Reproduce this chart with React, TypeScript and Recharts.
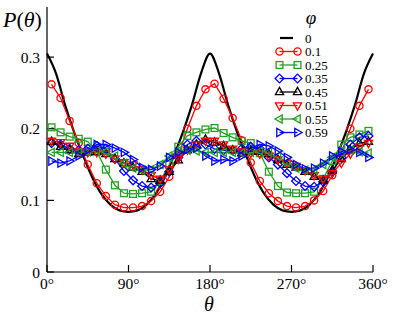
import { LineChart, Line, XAxis, YAxis } from 'recharts';

// phi = 0 reference curve, sampled every 10 degrees
const curveTheta = [0, 10, 20, 30, 40, 50, 60, 70, 80, 90, 100, 110, 120, 130, 140, 150, 160, 170, 180,
  190, 200, 210, 220, 230, 240, 250, 260, 270, 280, 290, 300, 310, 320, 330, 340, 350, 360];
const curvePhi0 = [0.305, 0.277, 0.233, 0.195, 0.162, 0.132, 0.109, 0.094, 0.086, 0.084, 0.086, 0.094, 0.109,
  0.132, 0.162, 0.195, 0.233, 0.277, 0.305, 0.277, 0.233, 0.195, 0.162, 0.132, 0.109, 0.094, 0.086, 0.084,
  0.086, 0.094, 0.109, 0.132, 0.162, 0.195, 0.233, 0.277, 0.305];

// simulation points, every 10 degrees starting at 5
const markTheta = [5, 15, 25, 35, 45, 55, 65, 75, 85, 95, 105, 115, 125, 135, 145, 155, 165, 175,
  185, 195, 205, 215, 225, 235, 245, 255, 265, 275, 285, 295, 305, 315, 325, 335, 345, 355];
const phi010 = [0.262, 0.243, 0.211, 0.18, 0.15, 0.124, 0.106, 0.094, 0.09, 0.09, 0.092, 0.099, 0.112, 0.133,
  0.163, 0.2, 0.232, 0.255, 0.263, 0.242, 0.215, 0.184, 0.153, 0.127, 0.11, 0.099, 0.092, 0.09, 0.092, 0.1,
  0.113, 0.135, 0.167, 0.2, 0.232, 0.255];
const phi025 = [0.202, 0.195, 0.189, 0.186, 0.182, 0.168, 0.143, 0.121, 0.11, 0.109, 0.11, 0.112, 0.127, 0.15,
  0.175, 0.19, 0.195, 0.199, 0.201, 0.194, 0.188, 0.183, 0.18, 0.166, 0.14, 0.12, 0.111, 0.11, 0.11, 0.112,
  0.13, 0.155, 0.178, 0.188, 0.192, 0.197];
const phi035 = [0.18, 0.178, 0.172, 0.17, 0.172, 0.176, 0.172, 0.158, 0.141, 0.128, 0.12, 0.118, 0.124, 0.14,
  0.16, 0.178, 0.183, 0.178, 0.172, 0.17, 0.17, 0.172, 0.175, 0.172, 0.16, 0.15, 0.138, 0.127, 0.12, 0.119,
  0.126, 0.14, 0.16, 0.178, 0.188, 0.19];
const phi045 = [0.182, 0.175, 0.17, 0.165, 0.167, 0.168, 0.165, 0.158, 0.152, 0.146, 0.14, 0.13, 0.128, 0.14,
  0.156, 0.17, 0.178, 0.185, 0.181, 0.176, 0.17, 0.166, 0.168, 0.168, 0.165, 0.157, 0.15, 0.146, 0.14, 0.133,
  0.128, 0.142, 0.158, 0.17, 0.18, 0.182];
const phi051 = [0.183, 0.181, 0.176, 0.168, 0.167, 0.167, 0.165, 0.158, 0.153, 0.15, 0.143, 0.135, 0.13, 0.143,
  0.158, 0.171, 0.178, 0.183, 0.183, 0.178, 0.172, 0.168, 0.166, 0.165, 0.162, 0.157, 0.152, 0.148, 0.142,
  0.135, 0.13, 0.138, 0.152, 0.165, 0.175, 0.18];
const phi055 = [0.167, 0.167, 0.167, 0.167, 0.168, 0.17, 0.168, 0.162, 0.152, 0.145, 0.142, 0.143, 0.15, 0.162,
  0.169, 0.17, 0.169, 0.167, 0.167, 0.167, 0.167, 0.166, 0.167, 0.169, 0.168, 0.162, 0.153, 0.145, 0.142,
  0.143, 0.15, 0.16, 0.167, 0.17, 0.168, 0.166];
const phi059 = [0.155, 0.152, 0.155, 0.162, 0.17, 0.178, 0.178, 0.173, 0.167, 0.157, 0.146, 0.143, 0.148, 0.16,
  0.167, 0.171, 0.173, 0.162, 0.155, 0.157, 0.155, 0.162, 0.173, 0.178, 0.176, 0.169, 0.16, 0.15, 0.144,
  0.145, 0.152, 0.162, 0.168, 0.171, 0.167, 0.16];

const xMajor = [0, 90, 180, 270, 360];
const xMinor = [45, 135, 225, 315];
const yMajor = [0, 0.1, 0.2, 0.3];
const yMinor = [0.05, 0.15, 0.25, 0.35];

const GREEN = '#22a022';
const SERIF = 'Liberation Serif, Times New Roman, serif';

const series = [
  { name: '0.1', values: phi010, color: '#ff0000', shape: 'circle' },
  { name: '0.25', values: phi025, color: GREEN, shape: 'square' },
  { name: '0.35', values: phi035, color: '#0000ff', shape: 'diamond' },
  { name: '0.45', values: phi045, color: '#000000', shape: 'up' },
  { name: '0.51', values: phi051, color: '#ff0000', shape: 'down' },
  { name: '0.55', values: phi055, color: GREEN, shape: 'left' },
  { name: '0.59', values: phi059, color: '#0000ff', shape: 'right' },
];

const curveData = curveTheta.map((t, i) => ({ theta: t, p: curvePhi0[i] }));

const shapes: Record<string, number[][]> = {
  diamond: [[0, -4.4], [4.4, 0], [0, 4.4], [-4.4, 0]],
  up: [[0, -4.6], [4.1, 2.7], [-4.1, 2.7]],
  down: [[0, 4.6], [4.1, -2.7], [-4.1, -2.7]],
  left: [[-4.6, 0], [2.7, -4.1], [2.7, 4.1]],
  right: [[4.6, 0], [-2.7, -4.1], [-2.7, 4.1]],
};

function Marker({ shape, cx, cy, color }: { shape: string; cx: number; cy: number; color: string }) {
  const st = { fill: 'none', stroke: color, strokeWidth: 1.3 };
  if (shape === 'circle') return <circle cx={cx} cy={cy} r={3.6} {...st} />;
  if (shape === 'square') return <rect x={cx - 3.4} y={cy - 3.4} width={6.8} height={6.8} {...st} />;
  const pts = shapes[shape].map(([dx, dy]) => `${cx + dx},${cy + dy}`).join(' ');
  return <polygon points={pts} {...st} />;
}

const fmtX = (v: number) => `${v}°`;
const fmtY = (v: number) => (v === 0 ? '0' : v.toFixed(1));

const tickFont = { fill: '#000', fontSize: 15.5, fontFamily: SERIF };
const line = { stroke: '#000', strokeWidth: 1.2 };
const xDom: [number, number] = [0, 360];
const yDom: [number, number] = [0, 0.37];

export default function App() {
  return (
    <div style={{ position: 'absolute', left: 0, top: 0, width: 394, height: 317, background: '#fff' }}>
      <LineChart width={394} height={317} data={curveData} margin={{ top: 7, right: 21, bottom: 0, left: 0 }}>
        {/* minor ticks first so they sit on the frame, then the labelled axes */}
        <XAxis xAxisId="bminor" dataKey="theta" type="number" domain={xDom} ticks={xMinor} interval={0}
          tick={false} tickSize={-4} height={0} axisLine={false} tickLine={line} />
        <XAxis xAxisId={0} dataKey="theta" type="number" domain={xDom} ticks={xMajor} interval={0}
          tickFormatter={fmtX} tick={tickFont} tickSize={-7} tickMargin={13} height={45}
          axisLine={line} tickLine={line} />
        <XAxis xAxisId="tminor" orientation="top" dataKey="theta" type="number" domain={xDom} ticks={xMinor}
          interval={0} tick={false} tickSize={-4} height={0} axisLine={false} tickLine={line} />
        <XAxis xAxisId="top" orientation="top" dataKey="theta" type="number" domain={xDom} ticks={xMajor}
          interval={0} tick={false} tickSize={-7} height={0} axisLine={line} tickLine={line} />
        <YAxis yAxisId="lminor" type="number" domain={yDom} ticks={yMinor} interval={0}
          tick={false} tickSize={-4} width={0} axisLine={false} tickLine={line} />
        <YAxis yAxisId={0} type="number" domain={yDom} ticks={yMajor} interval={0} tickFormatter={fmtY}
          tick={tickFont} tickSize={-7} tickMargin={14} width={47} axisLine={line} tickLine={line} />
        <YAxis yAxisId="rminor" orientation="right" type="number" domain={yDom} ticks={yMinor} interval={0}
          tick={false} tickSize={-4} width={0} axisLine={false} tickLine={line} />
        <YAxis yAxisId="right" orientation="right" type="number" domain={yDom} ticks={yMajor} interval={0}
          tick={false} tickSize={-7} width={0} axisLine={line} tickLine={line} />
        <Line data={curveData} dataKey="p" type="monotone" stroke="#000" strokeWidth={2.2} dot={false}
          isAnimationActive={false} />
        {series.map((s) => (
          <Line
            key={s.name}
            data={markTheta.map((t, i) => ({ theta: t, v: s.values[i] }))}
            dataKey="v"
            type="linear"
            stroke={s.color}
            strokeWidth={1.3}
            isAnimationActive={false}
            dot={(p: any) => (
              <Marker key={`${s.name}-${p.index}`} shape={s.shape} cx={p.cx} cy={p.cy} color={s.color} />
            )}
          />
        ))}
      </LineChart>
      <svg width={394} height={317} style={{ position: 'absolute', left: 0, top: 0, pointerEvents: 'none' }}
        fontFamily={SERIF}>
        <text x={3} y={27} fontSize={22}>
          <tspan fontStyle="italic">P</tspan>(<tspan fontStyle="italic">θ</tspan>)
        </text>
        <text x={209} y={311} fontSize={20} fontStyle="italic" textAnchor="middle">θ</text>
        <text x={311} y={24} fontSize={19} fontStyle="italic" textAnchor="middle">φ</text>
        <line x1={280} x2={293} y1={38} y2={38} stroke="#000" strokeWidth={2.2} />
        <text x={305} y={38} dy="0.35em" fontSize={13}>0</text>
        {series.map((s, i) => {
          const y = 51.5 + i * 13.5;
          return (
            <g key={s.name}>
              <line x1={279.5} x2={297.5} y1={y} y2={y} stroke={s.color} strokeWidth={1.3} />
              <Marker shape={s.shape} cx={279.5} cy={y} color={s.color} />
              <Marker shape={s.shape} cx={297.5} cy={y} color={s.color} />
              <text x={305} y={y} dy="0.35em" fontSize={13}>{s.name}</text>
            </g>
          );
        })}
      </svg>
    </div>
  );
}
